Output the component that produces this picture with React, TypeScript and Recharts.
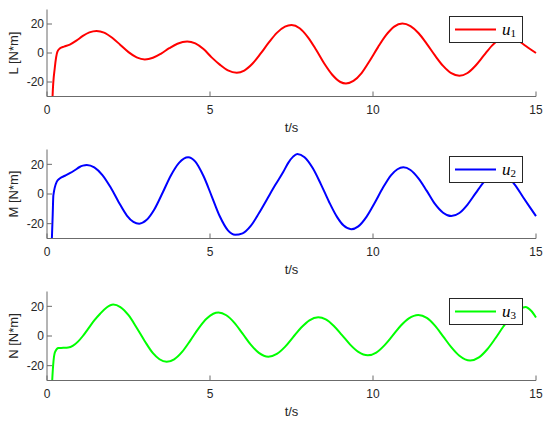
import { LineChart, Line, XAxis, YAxis, Legend, Label } from 'recharts';

// L [N*m] (u1)
const lTime = [0.15, 0.17, 0.24, 0.32, 0.4, 0.52, 0.7, 0.9, 1.1, 1.3, 1.52, 1.75, 2.0, 2.25, 2.5, 2.75, 3.0, 3.25, 3.5, 3.75, 4.0, 4.3, 4.55, 4.8, 5.05, 5.3, 5.55, 5.82, 6.05, 6.3, 6.55, 6.8, 7.05, 7.3, 7.5, 7.75, 8.0, 8.25, 8.5, 8.75, 9.0, 9.17, 9.4, 9.65, 9.9, 10.15, 10.4, 10.65, 10.9, 11.15, 11.4, 11.65, 11.9, 12.15, 12.4, 12.65, 12.9, 13.15, 13.4, 13.65, 13.9, 14.1, 14.3, 14.5, 14.75, 15];
const lValues = [-45, -30, -10, 1, 3.2, 4.4, 5.8, 8.5, 11.8, 14.2, 15.2, 14.1, 10.5, 5.6, 0.6, -3.0, -4.4, -3.3, -0.4, 3.3, 6.4, 8, 6.6, 2.7, -3.0, -8.0, -12.0, -13.6, -12.1, -7.4, -0.5, 7.1, 13.9, 18.2, 19.3, 17.1, 11.0, 2.4, -7.1, -15.0, -20.0, -21, -19.2, -13.8, -5.3, 3.9, 12.3, 18.2, 20.3, 18.5, 13.6, 6.3, -1.7, -8.9, -13.9, -15.7, -13.8, -8.6, -1.7, 5.1, 9.8, 11, 10.3, 7.8, 3.8, 0];

// M [N*m] (u2)
const mTime = [0.13, 0.15, 0.175, 0.195, 0.3, 0.4, 0.55, 0.7, 0.85, 1.0, 1.1, 1.22, 1.45, 1.7, 1.95, 2.2, 2.45, 2.65, 2.83, 3.05, 3.3, 3.55, 3.8, 4.05, 4.33, 4.55, 4.8, 5.05, 5.3, 5.55, 5.77, 6.0, 6.25, 6.5, 6.75, 7.0, 7.25, 7.4, 7.55, 7.68, 7.9, 8.15, 8.4, 8.65, 8.9, 9.1, 9.33, 9.55, 9.8, 10.05, 10.3, 10.55, 10.75, 10.93, 11.15, 11.4, 11.65, 11.9, 12.15, 12.4, 12.65, 12.9, 13.15, 13.4, 13.65, 13.85, 14.1, 14.36, 14.6, 14.8, 15];
const mValues = [-45, -30, -14, -1, 8.3, 10.6, 12.3, 14, 16, 18.2, 19.1, 19.6, 18, 12.8, 4.5, -5.5, -14.5, -18.8, -20, -17.6, -10.1, 1.0, 12.5, 21.0, 24.8, 21.8, 12.1, -1.35, -15.0, -24.5, -27.5, -26.5, -21.5, -13, -3.5, 6, 15, 21, 25.2, 27, 24.8, 17.5, 6.7, -5.2, -15.6, -21.3, -23.7, -21.8, -15.4, -6.1, 4.0, 12.6, 16.7, 18, 16.2, 10.4, 2.1, -6.7, -12.6, -14.9, -12.8, -7.1, 0.6, 8.0, 13.2, 14.5, 12.2, 6, -2, -8.5, -14.9];

// N [N*m] (u3)
const nTime = [0.14, 0.16, 0.245, 0.35, 0.5, 0.65, 0.8, 0.95, 1.1, 1.25, 1.45, 1.63, 1.83, 2.03, 2.25, 2.5, 2.75, 3.0, 3.25, 3.45, 3.67, 3.9, 4.15, 4.4, 4.65, 4.9, 5.1, 5.26, 5.5, 5.75, 6.0, 6.25, 6.5, 6.79, 7.05, 7.3, 7.55, 7.8, 8.05, 8.32, 8.55, 8.8, 9.05, 9.3, 9.55, 9.84, 10.1, 10.35, 10.6, 10.85, 11.1, 11.39, 11.65, 11.9, 12.15, 12.4, 12.65, 12.98, 13.25, 13.5, 13.75, 14.0, 14.25, 14.5, 14.68, 14.85, 15];
const nValues = [-45, -30, -10.8, -8.1, -8, -7.8, -6.5, -3.8, 0, 4.5, 10.5, 15, 19.2, 21.2, 19.5, 14.0, 5.6, -3.5, -11.6, -15.7, -17.4, -15.7, -10.5, -2.9, 5.2, 11.8, 15.0, 15.8, 14.0, 8.9, 1.6, -5.8, -11.4, -14, -12.1, -7.35, -0.8, 5.7, 10.6, 12.6, 11.2, 6.8, 0.6, -5.8, -10.7, -13, -11.2, -6.3, 0.2, 6.9, 11.9, 14.2, 12.2, 7.0, -0.2, -7.5, -13.3, -16.5, -14.4, -9.1, -1.7, 6.4, 13.4, 18.1, 19.6, 17, 12.5];

const xTicks = [0, 5, 10, 15];
const yTicks = [-20, 0, 20];

const AXIS = '#6b6b6b';
const TEXT = '#262626';
const FONT = '"Liberation Sans", Arial, sans-serif';

const BottomTick = (props: any) => {
  const { x, y, payload } = props;
  return (
    <g>
      <line x1={x} x2={x} y1={y} y2={y - 5} stroke={AXIS} />
      <text x={x} y={y + 17.5} textAnchor="middle" fontSize={12} fill={TEXT} fontFamily={FONT}>
        {payload.value}
      </text>
    </g>
  );
};

const TopTick = (props: any) => {
  const { x, y } = props;
  return <line x1={x} x2={x} y1={y} y2={y + 5} stroke={AXIS} />;
};

const LeftTick = (props: any) => {
  const { x, y, payload } = props;
  return (
    <g>
      <line x1={x} x2={x + 5} y1={y} y2={y} stroke={AXIS} />
      <text x={x - 3} y={y + 4.3} textAnchor="end" fontSize={12} fill={TEXT} fontFamily={FONT}>
        {payload.value}
      </text>
    </g>
  );
};

const RightTick = (props: any) => {
  const { x, y } = props;
  return <line x1={x} x2={x - 5} y1={y} y2={y} stroke={AXIS} />;
};

const YTitle = (props: any) => {
  const { viewBox, text } = props;
  const cx = 18;
  const cy = viewBox ? viewBox.y + viewBox.height / 2 : 50;
  return (
    <text
      x={cx}
      y={cy}
      transform={`rotate(-90 ${cx} ${cy})`}
      textAnchor="middle"
      fontSize={13}
      fill={TEXT}
      fontFamily={FONT}
    >
      {text}
    </text>
  );
};

const legendBox = (color: string, sub: string) => () => (
  <div
    style={{
      width: 74,
      height: 27,
      boxSizing: 'border-box',
      border: '1px solid #262626',
      background: '#fff',
      position: 'relative',
    }}
  >
    <svg width={72} height={25} style={{ position: 'absolute', left: 0, top: 0 }}>
      <line x1={5} x2={46} y1={12.5} y2={12.5} stroke={color} strokeWidth={2} />
      <text x={52} y={17.5} fontFamily='"Liberation Serif", serif' fontStyle="italic" fontSize={17} fill="#000">
        u
        <tspan fontStyle="normal" fontSize={11} dy={2}>
          {sub}
        </tspan>
      </text>
    </svg>
  </div>
);

interface PanelProps {
  time: number[];
  values: number[];
  color: string;
  yLabel: string;
  sub: string;
  top: number;
  height: number;
  marginTop: number;
  plotHeight: number;
}

function Panel({ time, values, color, yLabel, sub, top, height, marginTop, plotHeight }: PanelProps) {
  const data = time.map((t, i) => ({ t, v: values[i] }));
  const bottom = height - marginTop - plotHeight - 35;
  return (
    <div style={{ position: 'absolute', left: 0, top }}>
      <LineChart width={550} height={height} data={data} margin={{ top: marginTop, right: 14, bottom, left: 0 }}>
        <XAxis
          xAxisId="b"
          dataKey="t"
          type="number"
          domain={[0, 15]}
          ticks={xTicks}
          interval={0}
          height={35}
          tickSize={0}
          tickMargin={0}
          tickLine={false}
          axisLine={{ stroke: AXIS }}
          tick={<BottomTick />}
        >
          <Label value="t/s" position="insideBottom" offset={0} style={{ fontSize: 13, fill: TEXT, fontFamily: FONT }} />
        </XAxis>
        <XAxis
          xAxisId="t"
          orientation="top"
          dataKey="t"
          type="number"
          domain={[0, 15]}
          ticks={xTicks}
          interval={0}
          height={0}
          tickSize={0}
          tickMargin={0}
          tickLine={false}
          axisLine={{ stroke: AXIS }}
          tick={<TopTick />}
        />
        <YAxis
          yAxisId="l"
          type="number"
          domain={[-30, 30]}
          ticks={yTicks}
          interval={0}
          allowDataOverflow
          width={47}
          tickSize={0}
          tickMargin={0}
          tickLine={false}
          axisLine={{ stroke: AXIS }}
          tick={<LeftTick />}
        >
          <Label content={<YTitle text={yLabel} />} />
        </YAxis>
        <YAxis
          yAxisId="r"
          orientation="right"
          type="number"
          domain={[-30, 30]}
          ticks={yTicks}
          interval={0}
          allowDataOverflow
          width={0}
          tickSize={0}
          tickMargin={0}
          tickLine={false}
          axisLine={{ stroke: AXIS }}
          tick={<RightTick />}
        />
        <Line
          xAxisId="b"
          yAxisId="l"
          type="monotone"
          dataKey="v"
          stroke={color}
          strokeWidth={2}
          dot={false}
          isAnimationActive={false}
        />
        <Legend
          layout="horizontal"
          align="center"
          verticalAlign="middle"
          content={legendBox(color, sub)}
          wrapperStyle={{ left: 449, top: marginTop + 6.5, width: 74, height: 27 }}
        />
      </LineChart>
    </div>
  );
}

export default function App() {
  return (
    <div style={{ position: 'absolute', left: 0, top: 0, width: 550, height: 424, background: '#fff' }}>
      <Panel time={lTime} values={lValues} color="#ff0000" yLabel="L [N*m]" sub="1" top={0} height={140} marginTop={9.5} plotHeight={87} />
      <Panel time={mTime} values={mValues} color="#0000ff" yLabel="M [N*m]" sub="2" top={140} height={141} marginTop={9.5} plotHeight={89} />
      <Panel time={nTime} values={nValues} color="#00ff00" yLabel="N [N*m]" sub="3" top={281} height={143} marginTop={10.5} plotHeight={89} />
    </div>
  );
}
